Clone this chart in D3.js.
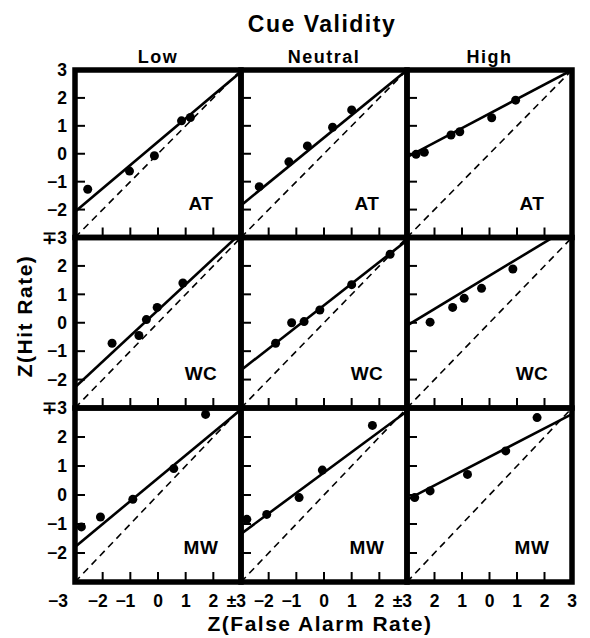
<!DOCTYPE html>
<html>
<head>
<meta charset="utf-8">
<script src="https://cdn.jsdelivr.net/npm/d3@7"></script>
<style>
  body { margin: 0; background: #fff; }
  text { font-family: "Liberation Sans", Arial, Helvetica, sans-serif; font-weight: bold; fill: #000; }
</style>
</head>
<body>
<svg id="chart"></svg>
<script>
// cue validity columns and subject rows
const conditions = ["Low", "Neutral", "High"];
const subjects = ["AT", "WC", "MW"];

// z(FA), z(Hit) points, one list per condition
const atPoints = [
  [[-2.54, -1.27], [-1.03, -0.62], [-0.13, -0.07], [0.85, 1.18], [1.17, 1.30]],
  [[-2.34, -1.18], [-1.27, -0.29], [-0.60, 0.28], [0.31, 0.95], [1.00, 1.57]],
  [[-2.67, -0.02], [-2.37, 0.05], [-1.40, 0.67], [-1.08, 0.79], [0.08, 1.29], [0.95, 1.92]]
];
const wcPoints = [
  [[-1.66, -0.72], [-0.69, -0.45], [-0.42, 0.11], [-0.03, 0.54], [0.90, 1.40]],
  [[-1.75, -0.72], [-1.17, 0.00], [-0.72, 0.04], [-0.15, 0.45], [1.00, 1.34], [2.39, 2.41]],
  [[-2.16, 0.02], [-1.34, 0.54], [-0.92, 0.86], [-0.29, 1.21], [0.85, 1.89]]
];
const mwPoints = [
  [[-2.77, -1.10], [-2.08, -0.76], [-0.91, -0.15], [0.57, 0.91], [1.72, 2.78]],
  [[-2.79, -0.84], [-2.07, -0.67], [-0.90, -0.09], [-0.06, 0.86], [1.75, 2.40]],
  [[-2.72, -0.09], [-2.16, 0.14], [-0.80, 0.71], [0.59, 1.52], [1.73, 2.67]]
];
const points = [atPoints, wcPoints, mwPoints];

// fitted ROC lines: z(Hit) at z(FA) = -3 and at z(FA) = 3
const atFits = [[-2.08, 2.94], [-1.85, 3.00], [-0.12, 3.00]];
const wcFits = [[-2.27, 3.16], [-1.67, 2.90], [-0.10, 3.41]];
const mwFits = [[-1.79, 2.95], [-1.34, 2.89], [-0.16, 2.79]];
const fits = [atFits, wcFits, mwFits];

// axis ticks and their printed labels
const tickValues = [-2, -1, 0, 1, 2];
const yLabelsTop = ["3", "2", "1", "0", "\u22121", "\u22122"];
const yLabelsRest = ["\u22133", "2", "1", "0", "\u22121", "\u22122"];
const yLabelValues = [3, 2, 1, 0, -1, -2];
const xLabelValues = [[-3, -2, -1, 0, 1, 2, 3], [-2, -1, 0, 1, 2, 3], [-2, -1, 0, 1, 2, 3]];
const xLabels = [
  ["\u22123", "\u22122", "\u22121", "0", "1", "2", "\u00b13"],
  ["\u22122", "\u22121", "0", "1", "2", "\u00b13"],
  ["2", "1", "0", "1", "2", "3"]
];

const width = 590, height = 638;
const colEdges = [75, 241, 407, 572];
const rowEdges = [70, 237.5, 408, 582];

const svg = d3.select("#chart").attr("width", width).attr("height", height);

svg.append("text")
  .attr("x", 322).attr("y", 32)
  .attr("text-anchor", "middle")
  .attr("font-size", 23).attr("letter-spacing", 1.5)
  .text("Cue Validity");

conditions.forEach((c, j) => {
  svg.append("text")
    .attr("x", (colEdges[j] + colEdges[j + 1]) / 2).attr("y", 63)
    .attr("text-anchor", "middle")
    .attr("font-size", 18).attr("letter-spacing", 1.5)
    .text(c);
});

subjects.forEach((s, i) => {
  conditions.forEach((c, j) => {
    const x = d3.scaleLinear().domain([-3, 3]).range([colEdges[j], colEdges[j + 1]]);
    const y = d3.scaleLinear().domain([-3, 3]).range([rowEdges[i + 1], rowEdges[i]]);
    const g = svg.append("g");
    const clipId = `clip-${i}-${j}`;
    g.append("clipPath").attr("id", clipId)
      .append("rect")
      .attr("x", x(-3)).attr("y", y(3))
      .attr("width", x(3) - x(-3)).attr("height", y(-3) - y(3));

    const inner = g.append("g").attr("clip-path", `url(#${clipId})`);

    // chance diagonal
    inner.append("line")
      .attr("x1", x(-3)).attr("y1", y(-3))
      .attr("x2", x(3)).attr("y2", y(3))
      .attr("stroke", "#000").attr("stroke-width", 1.6)
      .attr("stroke-dasharray", "7,5");

    // fitted line
    const f = fits[i][j];
    inner.append("line")
      .attr("x1", x(-3)).attr("y1", y(f[0]))
      .attr("x2", x(3)).attr("y2", y(f[1]))
      .attr("stroke", "#000").attr("stroke-width", 2.6);

    g.selectAll("circle.pt")
      .data(points[i][j])
      .join("circle")
      .attr("class", "pt")
      .attr("cx", d => x(d[0])).attr("cy", d => y(d[1]))
      .attr("r", 4.5).attr("fill", "#000");

    // inward ticks on left and bottom edges
    g.selectAll("line.yt")
      .data(tickValues)
      .join("line")
      .attr("class", "yt")
      .attr("x1", x(-3)).attr("x2", x(-3) + 10)
      .attr("y1", d => y(d)).attr("y2", d => y(d))
      .attr("stroke", "#000").attr("stroke-width", 2);
    g.selectAll("line.xt")
      .data(tickValues)
      .join("line")
      .attr("class", "xt")
      .attr("x1", d => x(d)).attr("x2", d => x(d))
      .attr("y1", y(-3)).attr("y2", y(-3) - 10)
      .attr("stroke", "#000").attr("stroke-width", 2);

    g.append("rect")
      .attr("x", x(-3)).attr("y", y(3))
      .attr("width", x(3) - x(-3)).attr("height", y(-3) - y(3))
      .attr("fill", "none").attr("stroke", "#000").attr("stroke-width", 5.5);

    g.append("text")
      .attr("x", x(3) - 40).attr("y", y(-3) - 28)
      .attr("text-anchor", "middle")
      .attr("font-size", 19).attr("letter-spacing", 0.5)
      .text(s);

    // y tick labels on the first column
    if (j === 0) {
      const labs = i === 0 ? yLabelsTop : yLabelsRest;
      g.selectAll("text.yl")
        .data(yLabelValues)
        .join("text")
        .attr("class", "yl")
        .attr("x", 67).attr("y", d => y(d))
        .attr("dy", "0.36em")
        .attr("text-anchor", "end")
        .attr("font-size", 17.5)
        .text((d, k) => labs[k]);
    }

    // x tick labels on the last row
    if (i === subjects.length - 1) {
      g.selectAll("text.xl")
        .data(xLabelValues[j])
        .join("text")
        .attr("class", "xl")
        .attr("x", d => (j === 0 && d === -3) ? x(d) - 7 : x(d) + 5)
        .attr("y", 607)
        .attr("text-anchor", "end")
        .attr("font-size", 17.5)
        .text((d, k) => xLabels[j][k]);
    }
  });
});

svg.append("text")
  .attr("transform", "translate(32,316) rotate(-90)")
  .attr("text-anchor", "middle")
  .attr("font-size", 21).attr("letter-spacing", 1.5)
  .text("Z(Hit Rate)");

svg.append("text")
  .attr("x", 320).attr("y", 631)
  .attr("text-anchor", "middle")
  .attr("font-size", 21).attr("letter-spacing", 1.5)
  .text("Z(False Alarm Rate)");
</script>
</body>
</html>
